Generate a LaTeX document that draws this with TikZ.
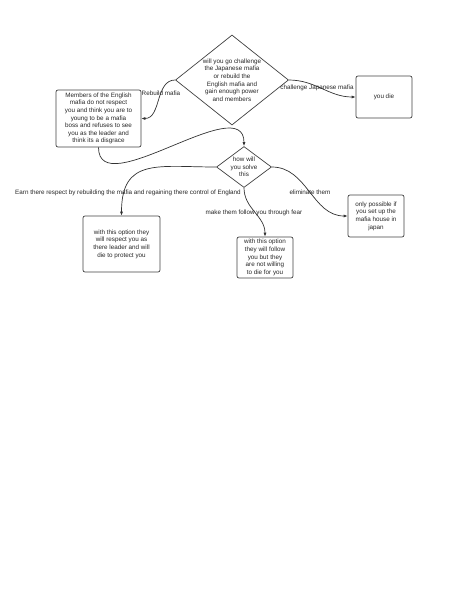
\documentclass[tikz,border=0pt]{standalone}
\usepackage{fontspec}
\setmainfont{Liberation Sans}
\usetikzlibrary{shapes.geometric,arrows.meta}

\begin{document}
\begin{tikzpicture}[x=1pt, y=1pt,
  every node/.style={font=\fontsize{6.3}{7.6}\selectfont, text=black!85},
  box/.style={draw=black!75, line width=0.7pt, rounded corners=2pt, align=center, inner sep=1pt},
  choice/.style={draw=black!75, line width=0.7pt, diamond, align=center, inner sep=0pt},
  link/.style={draw=black!80, line width=0.7pt, -{Latex[length=4pt,width=3pt]}},
  lbl/.style={inner sep=0pt}]
\useasboundingbox (0,0) rectangle (474,-613);
% questions
\node[choice, aspect=1.25, minimum width=113, minimum height=90] (plan) at (232,-80) {will you go challenge\\the Japanese mafia\\or rebuild the\\English mafia and\\gain enough power\\and members};
\node[choice, aspect=1.34, minimum width=55, minimum height=41] (solve) at (244,-167) {how will\\you solve\\this};
% outcomes
\node[box, minimum width=85, minimum height=57] (english) at (98.5,-118.5) {Members of the English\\mafia do not respect\\you and think you are to\\young to be a mafia\\boss and refuses to see\\you as the leader and\\think its a disgrace};
\node[box, minimum width=56, minimum height=42] (die) at (384,-97) {you die};
\node[box, minimum width=77, minimum height=56] (respect) at (121.5,-244) {with this option they\\will respect you as\\there leader and will\\die to protect you};
\node[box, minimum width=56, minimum height=41] (fear) at (265,-257.5) {with this option\\they will follow\\you but they\\are not willing\\to die for you};
\node[box, minimum width=56, minimum height=42] (japan) at (376,-216) {only possible if\\you set up the\\mafia house in\\japan};
% links
\draw[link] (plan.west) to[out=180,in=0] (english.east);
\draw[link] (plan.east) to[out=0,in=180] (die.west);
\draw[link] (english.south) to[out=-90,in=90] (solve.north);
\draw[link] (solve.west) to[out=180,in=90,looseness=1.4] (respect.north);
\draw[link] (solve.south) to[out=-90,in=90] (fear.north);
\draw[link] (solve.east) to[out=0,in=180] (japan.west);
% labels
\node[lbl] (rebuild) at (161,-93) {Rebuild mafia};
\node[lbl] (challenge) at (317,-88) {challenge Japanese mafia};
\node[lbl] (earn) at (128,-193) {Earn there respect by rebuilding the mafia and regaining there control of England};
\node[lbl] (follow) at (254,-213) {make them follow you through fear};
\node[lbl] (eliminate) at (310,-192) {eliminate them};
\end{tikzpicture}
\end{document}
